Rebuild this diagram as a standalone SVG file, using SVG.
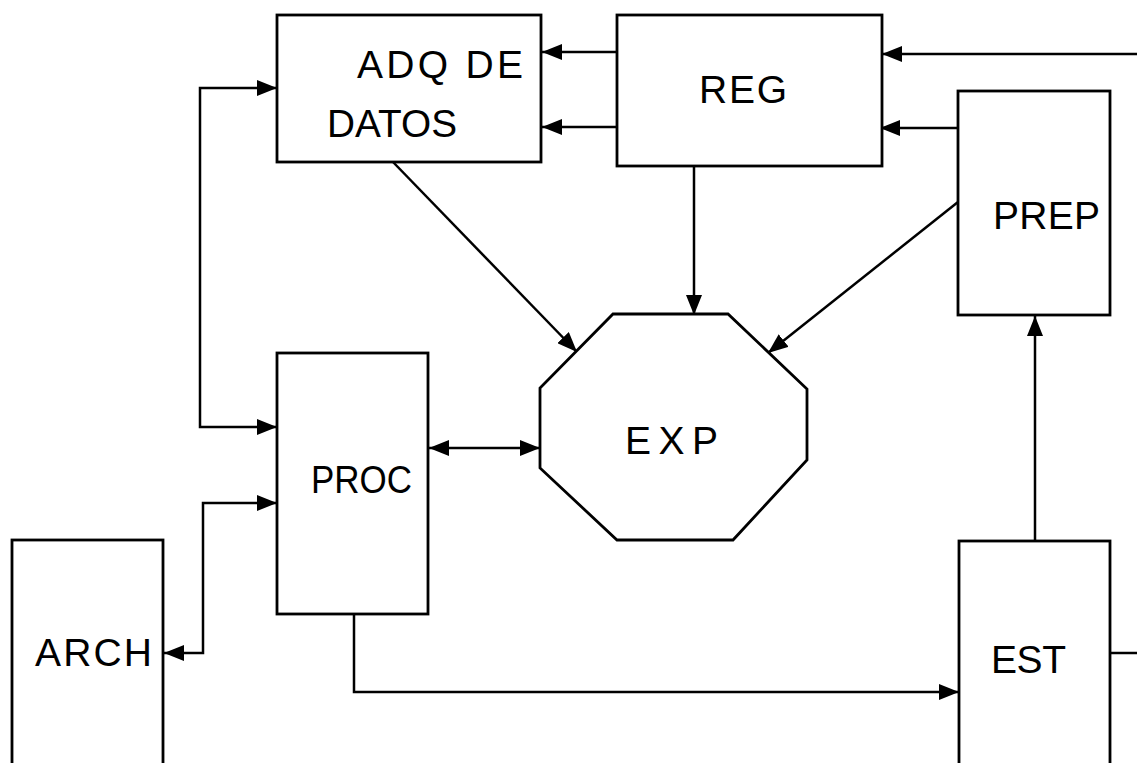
<svg xmlns="http://www.w3.org/2000/svg" width="1137" height="763" viewBox="0 0 1137 763">
<style>
.box{fill:#fff;stroke:#000;stroke-width:2.8}
.lbl{font-family:"Liberation Sans",Arial,sans-serif;font-size:39px;fill:#000}
.con{fill:none;stroke:#000;stroke-width:2.5}
</style>
<defs>
<marker id="ah" markerUnits="userSpaceOnUse" markerWidth="22" markerHeight="16" refX="20" refY="8" orient="auto-start-reverse">
<path d="M0,0 L20,8 L0,16 Z" fill="#000"/>
</marker>
</defs>
<rect width="1137" height="763" fill="#fff"/>
<g id="connectors">
<path class="con" d="M617,52 L542,52" marker-end="url(#ah)"/>
<path class="con" d="M617,127 L542,127" marker-end="url(#ah)"/>
<path class="con" d="M1137,54 L882,54" marker-end="url(#ah)"/>
<path class="con" d="M958,128 L880,128" marker-end="url(#ah)"/>
<path class="con" d="M277,88 L200,88 L200,427 L277,427" marker-start="url(#ah)" marker-end="url(#ah)"/>
<path class="con" d="M277,503 L203,503 L203,653 L164,653" marker-start="url(#ah)" marker-end="url(#ah)"/>
<path class="con" d="M393,162 L577,352" marker-end="url(#ah)"/>
<path class="con" d="M694,166 L694,315" marker-end="url(#ah)"/>
<path class="con" d="M958,202 L768,353" marker-end="url(#ah)"/>
<path class="con" d="M429,448 L540,448" marker-start="url(#ah)" marker-end="url(#ah)"/>
<path class="con" d="M1035,541 L1035,316" marker-end="url(#ah)"/>
<path class="con" d="M1110,653 L1137,653"/>
<path class="con" d="M354,614 L354,692 L959,692" marker-end="url(#ah)"/>
</g>
<g id="adq">
<rect class="box" x="277" y="15" width="264" height="147"/>
<text class="lbl" x="357" y="78" textLength="166" lengthAdjust="spacing">ADQ DE</text>
<text class="lbl" x="327" y="137" textLength="130" lengthAdjust="spacingAndGlyphs">DATOS</text>
</g>
<g id="reg">
<rect class="box" x="617" y="15" width="265" height="151"/>
<text class="lbl" x="699" y="103" textLength="88" lengthAdjust="spacing">REG</text>
</g>
<g id="prep">
<rect class="box" x="958" y="91" width="152" height="224"/>
<text class="lbl" x="993" y="229" textLength="107" lengthAdjust="spacing">PREP</text>
</g>
<g id="exp">
<polygon class="box" points="613,314 728,314 807,389 807,460 733,540 617,540 540,468 540,388"/>
<text class="lbl" x="625" y="454" font-size="37" textLength="93" lengthAdjust="spacing">EXP</text>
</g>
<g id="proc">
<rect class="box" x="277" y="353" width="151" height="261"/>
<text class="lbl" x="311" y="493" textLength="101" lengthAdjust="spacingAndGlyphs">PROC</text>
</g>
<g id="arch">
<rect class="box" x="12" y="540" width="151" height="240"/>
<text class="lbl" x="35" y="666" textLength="117" lengthAdjust="spacing">ARCH</text>
</g>
<g id="est">
<rect class="box" x="959" y="541" width="151" height="240"/>
<text class="lbl" x="991" y="673" textLength="75" lengthAdjust="spacing">EST</text>
</g>
</svg>
